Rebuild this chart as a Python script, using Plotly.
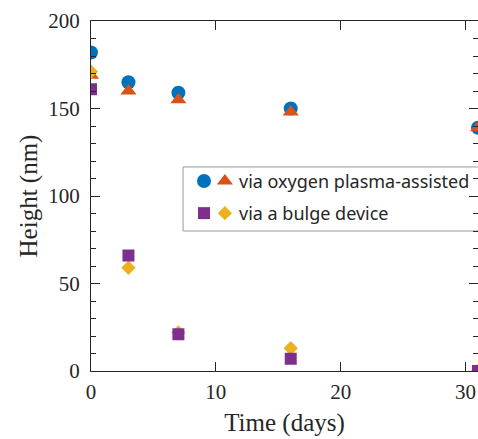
import plotly.graph_objects as go

# ---- data ----
days = [0, 3, 7, 16, 31]
plasma_circle = [182, 165, 159, 150, 139]
plasma_triangle = [169, 160, 155, 148, 139]
bulge_square = [161, 66, 21, 7, 0]
bulge_diamond = [171, 59, 22, 13, 0]

legend_labels = ["via oxygen plasma-assisted", "via a bulge device"]
x_ticks = [0, 10, 20, 30]
y_ticks = [0, 50, 100, 150, 200]

BLUE = "#0072BD"
ORANGE = "#D95319"
YELLOW = "#EDB120"
PURPLE = "#7E2F8E"
INK = "#262626"
SERIF = "Liberation Serif, Times New Roman, serif"
SANS = "Noto Sans, Arial, sans-serif"

fig = go.Figure()

series = [
    (plasma_circle, "circle", 14, BLUE),
    (plasma_triangle, "triangle-up", 14, ORANGE),
    (bulge_diamond, "diamond", 11, YELLOW),
    (bulge_square, "square", 12, PURPLE),
]
for vals, sym, size, col in series:
    fig.add_trace(go.Scatter(
        x=days, y=vals, mode="markers",
        marker=dict(symbol=sym, size=size, color=col, line=dict(width=0)),
        showlegend=False, cliponaxis=True, hoverinfo="skip"))

# invisible trace to anchor the right-hand tick axis
fig.add_trace(go.Scatter(x=[days[0]], y=[y_ticks[0]], yaxis="y2", mode="markers",
                         marker=dict(opacity=0), showlegend=False, hoverinfo="skip"))

# custom legend (two symbols per row)
lx = [0.292, 0.346]
ly = [0.543, 0.451]
leg_syms = [("circle", 14, BLUE), ("triangle-up", 14, ORANGE),
            ("square", 12, PURPLE), ("diamond", 11, YELLOW)]
for i, (sym, size, col) in enumerate(leg_syms):
    fig.add_trace(go.Scatter(
        x=[lx[i % 2]], y=[ly[i // 2]], xaxis="x3", yaxis="y3", mode="markers",
        marker=dict(symbol=sym, size=size, color=col, line=dict(width=0)),
        showlegend=False, cliponaxis=False, hoverinfo="skip"))

fig.add_shape(type="rect", xref="paper", yref="paper",
              x0=0.238, x1=1.05, y0=0.40, y1=0.583,
              line=dict(color="#9a9a9a", width=1), fillcolor="white", layer="below")
for lab, yy in zip(legend_labels, ly):
    fig.add_annotation(text=lab, xref="paper", yref="paper", x=0.376, y=yy,
                       xanchor="left", yanchor="middle", showarrow=False,
                       font=dict(family=SANS, size=18, color=INK))

axis_common = dict(showgrid=False, zeroline=False, showline=True, linecolor=INK,
                   linewidth=1, ticks="inside", ticklen=9, tickwidth=1, tickcolor=INK,
                   automargin=False,
                   tickfont=dict(family=SERIF, size=21, color=INK))

fig.update_layout(
    width=478, height=439,
    margin=dict(l=91, r=0, t=21, b=68, autoexpand=False),
    paper_bgcolor="white", plot_bgcolor="white",
    showlegend=False,
    xaxis=dict(range=[0, 31], tickvals=x_ticks, mirror="ticks", ticklabelstandoff=2,
               title=dict(text="Time (days)", font=dict(family=SERIF, size=25, color=INK),
                          standoff=10),
               **axis_common),
    yaxis=dict(range=[0, 200], tickvals=y_ticks, ticklabelstandoff=6,
               minor=dict(dtick=10, ticklen=5, ticks="inside", tickcolor=INK),
               title=dict(text="Height (nm)", font=dict(family=SERIF, size=25, color=INK),
                          standoff=3),
               **axis_common),
    yaxis2=dict(range=[0, 200], overlaying="y", side="right", tickvals=y_ticks,
                showticklabels=False, showgrid=False, zeroline=False, showline=False,
                automargin=False,
                ticks="inside", ticklen=9, tickcolor=INK,
                minor=dict(dtick=10, ticklen=5, ticks="inside", tickcolor=INK)),
    xaxis3=dict(range=[0, 1], overlaying="x", visible=False, automargin=False),
    yaxis3=dict(range=[0, 1], overlaying="y", visible=False, automargin=False),
)

fig.write_html("out.html", config={"displayModeBar": False},
               post_script="document.body.style.margin='0';document.body.style.overflow='hidden';")
